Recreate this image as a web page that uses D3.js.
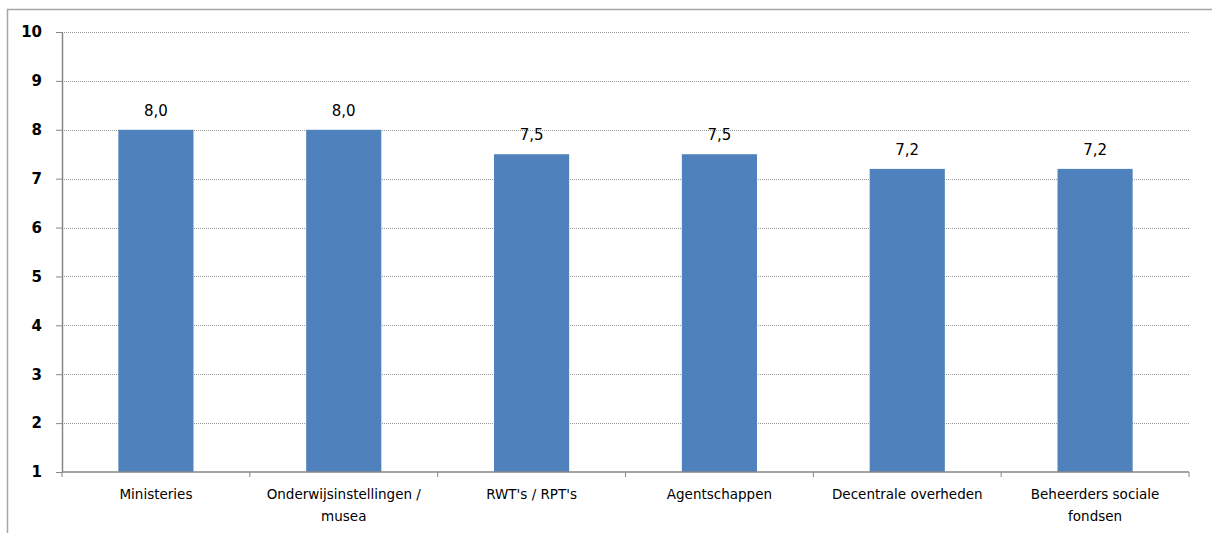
<!DOCTYPE html>
<html>
<head>
<meta charset="utf-8">
<script src="https://cdn.jsdelivr.net/npm/d3@7"></script>
<style>
  body { margin: 0; background: #fff; }
  text { font-family: Tahoma, "DejaVu Sans", sans-serif; fill: #000; }
</style>
</head>
<body>
<div id="chart"></div>
<script>
const categories = [
    ["Ministeries"],
    ["Onderwijsinstellingen /", "musea"],
    ["RWT's / RPT's"],
    ["Agentschappen"],
    ["Decentrale overheden"],
    ["Beheerders sociale", "fondsen"]
];
const values = [8.0, 8.0, 7.5, 7.5, 7.2, 7.2];
const yTicks = [1, 2, 3, 4, 5, 6, 7, 8, 9, 10];

const width = 1212, height = 533;
const margin = {top: 32, right: 23, bottom: 61, left: 62};

const svg = d3.select("#chart").append("svg")
    .attr("width", width)
    .attr("height", height);

// outer frame (only top and left visible)
svg.append("path")
    .attr("d", `M7.5,${height} V9.5 H${width}`)
    .attr("fill", "none")
    .attr("stroke", "#a6a6a6")
    .attr("stroke-width", 1.5);

const x = d3.scaleBand()
    .domain(d3.range(categories.length))
    .range([margin.left, width - margin.right])
    .paddingInner(0.6)
    .paddingOuter(0.3);

const y = d3.scaleLinear()
    .domain([1, 10])
    .range([height - margin.bottom, margin.top]);

// gridlines
svg.append("g")
    .selectAll("line")
    .data(yTicks.filter(d => d > 1))
    .join("line")
    .attr("x1", margin.left)
    .attr("x2", width - margin.right)
    .attr("y1", d => Math.round(y(d)) + 0.5)
    .attr("y2", d => Math.round(y(d)) + 0.5)
    .attr("stroke", "#9a9a9a")
    .attr("stroke-dasharray", "1,1");

// bars
svg.append("g")
    .selectAll("rect")
    .data(values)
    .join("rect")
    .attr("x", (d, i) => x(i))
    .attr("width", x.bandwidth())
    .attr("y", d => y(d))
    .attr("height", d => y(1) - y(d))
    .attr("fill", "#4f81bd");

// value labels
svg.append("g")
    .selectAll("text")
    .data(values)
    .join("text")
    .attr("x", (d, i) => x(i) + x.bandwidth() / 2)
    .attr("y", d => y(d) - 14)
    .attr("text-anchor", "middle")
    .attr("font-size", 15)
    .text(d => d.toFixed(1).replace(".", ","));

// y axis
const yAxis = svg.append("g")
    .attr("transform", `translate(${margin.left},0)`)
    .call(d3.axisLeft(y).tickValues(yTicks).tickSize(6).tickSizeOuter(0).tickPadding(14));
yAxis.select(".domain").attr("stroke", "#868686").attr("stroke-width", 1.5);
yAxis.selectAll(".tick line").attr("stroke", "#868686");
yAxis.selectAll(".tick text")
    .attr("font-size", 15)
    .attr("font-weight", "bold")
    .attr("fill", "#1a1a2e")
    .attr("font-family", 'Tahoma, "DejaVu Sans", sans-serif');

// x axis
const step = (width - margin.right - margin.left) / categories.length;
const xb = svg.append("g");
xb.append("line")
    .attr("x1", margin.left).attr("x2", width - margin.right)
    .attr("y1", y(1)).attr("y2", y(1))
    .attr("stroke", "#868686").attr("stroke-width", 1.5);
xb.selectAll("line.tk")
    .data(d3.range(categories.length + 1))
    .join("line")
    .attr("class", "tk")
    .attr("x1", i => margin.left + i * step)
    .attr("x2", i => margin.left + i * step)
    .attr("y1", y(1)).attr("y2", y(1) + 5)
    .attr("stroke", "#868686");

const labels = xb.selectAll("text")
    .data(categories)
    .join("text")
    .attr("text-anchor", "middle")
    .attr("font-size", 13.5)
    .attr("transform", (d, i) => `translate(${x(i) + x.bandwidth() / 2},${y(1) + 27})`);
labels.selectAll("tspan")
    .data(d => d)
    .join("tspan")
    .attr("x", 0)
    .attr("dy", (d, j) => j === 0 ? 0 : 22)
    .text(d => d);
</script>
</body>
</html>
